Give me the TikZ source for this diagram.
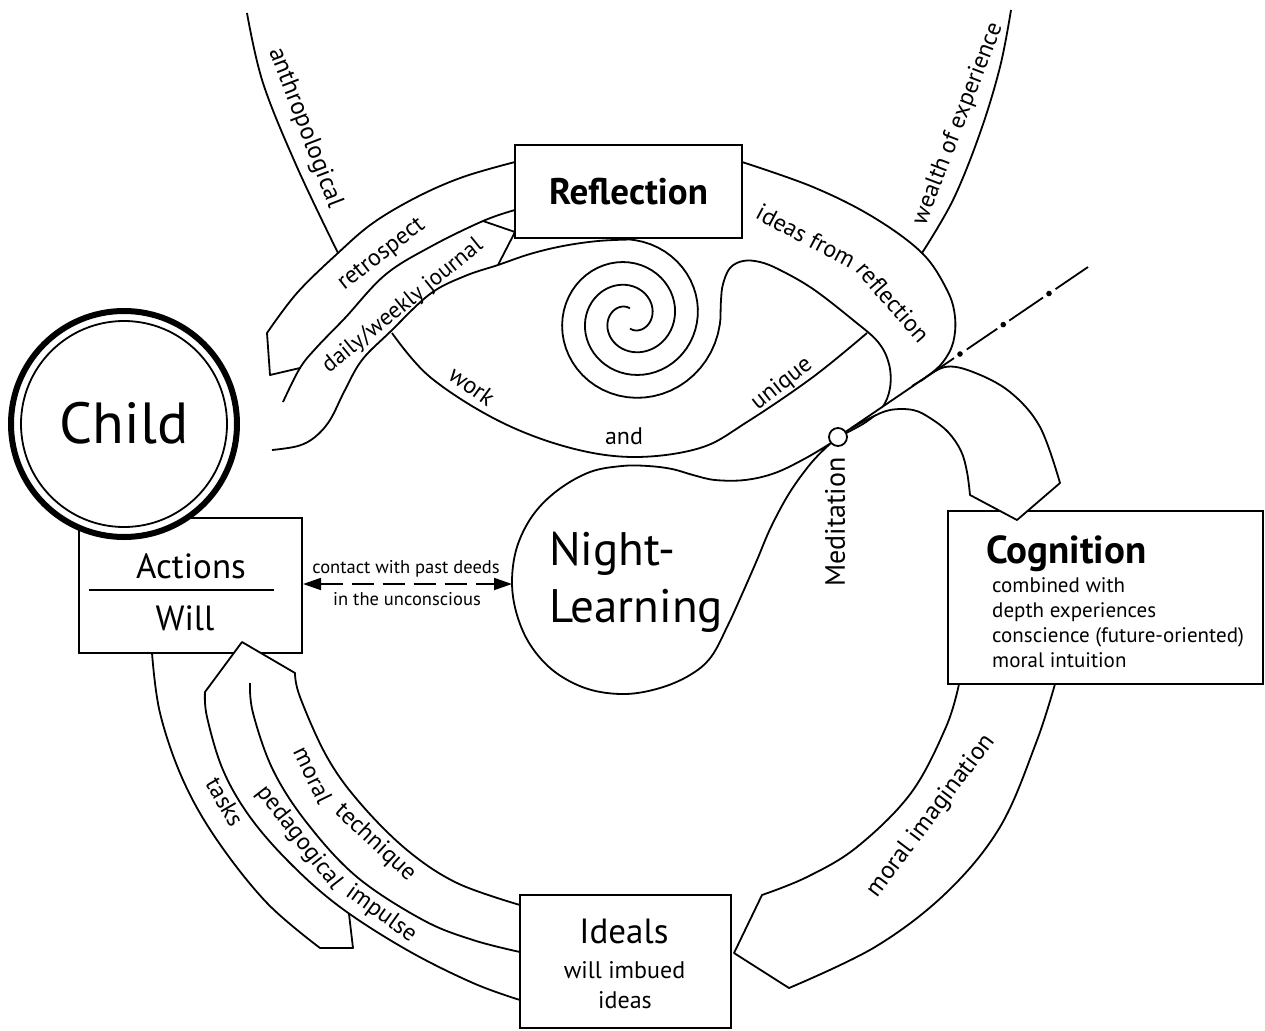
\documentclass[tikz,border=0pt]{standalone}
\usepackage{fontspec}
\setmainfont{PT Sans}
\setsansfont{PT Sans}
\usepackage{tikz}
\usetikzlibrary{shapes}
\usetikzlibrary{arrows.meta}
\usetikzlibrary{calc}
\tikzset{
	textnode/.style = {
		align=center,
		inner sep=0pt,
		font=\sffamily
	},
	node_box/.style = {
		textnode,
		rectangle,
		draw=black,
		fill=white,
		line width=2pt
	},
	node_lbl/.style = {
		textnode,
		font=\sffamily\fontsize{24}{28}\selectfont
	},
	node_small/.style = {
		textnode,
		font=\sffamily\fontsize{21}{25}\selectfont
	},
	node_big/.style = {
		textnode,
		font=\sffamily\fontsize{35}{40}\selectfont
	},
	node_title/.style = {
		textnode,
		font=\sffamily\bfseries\fontsize{38}{44}\selectfont
	},
	edge/.style = {
		draw=black,
		line width=1.8pt,
		line join=round
	},
}

\begin{document}
\begin{tikzpicture}[x=1pt, y=-1pt, >={Triangle[length=18pt,width=12pt]}]
\useasboundingbox (0,0) rectangle (1265,1030);

\draw[edge] plot[smooth, tension=0.6] coordinates {(247,13) (263,83) (297,167) (338,253)};
\draw[edge] plot[smooth, tension=0.6] coordinates {(1011,10) (1000,67) (980,133) (953,200) (922,253)};

\draw[edge] plot[smooth, tension=0.6] coordinates {(515,162) (463,177) (417,197) (373,223) (338,253) (297,293) (267,333)} -- (270,375) -- (300,368);
\draw[edge] plot[smooth, tension=0.6] coordinates {(515,210) (483,221) (430,247) (385,275) (345,318) (317,347) (300,368) (283,402)};
\draw[edge] (483,221) -- (515,232) -- (498,265);
\draw[edge] plot[smooth, tension=0.6] coordinates {(272,450) (298,446) (315,437) (330,420) (345,390) (362,360) (390,332) (430,294) (465,276) (498,265) (530,254) (563,246) (598,241) (630,239.5)}
	-- plot[domain=0.01:1.5, samples=90, variable=\t] ({630+(79-46*\t)*sin(360*\t)}, {318.5-(79-46*\t)*cos(360*\t)});
\draw[edge] plot[smooth, tension=0.6] coordinates {(846,433) (866,422) (882,408) (890,388) (889,364) (878,342) (853,320) (813,289) (780,270) (760,262) (743,261) (730,268) (723,284) (721,300) (720.5,318.5)}
	-- plot[domain=-0.24:1.5, samples=100, variable=\t] ({630-(79-46*\t)*sin(360*\t)}, {318.5+(79-46*\t)*cos(360*\t)});

\draw[edge] plot[smooth, tension=0.6] coordinates {(392,333) (430,377) (497,420) (567,447) (633,457) (700,448) (747,422) (813,377) (867,333)};
\draw[edge] plot[smooth, tension=0.6] coordinates {(742,162) (813,187) (873,217) (922,253) (947,290) (955,317) (953,343) (943,362) (929,375) (912,386)};

\draw[edge] plot[smooth, tension=0.6] coordinates {(831,443) (806,458) (775,473) (745,480) (715,480) (693,475) (672,469) (648,466) (622,466) (590,472) (558,490) (533,515) (517,547) (512,582) (517,615) (531,646) (555,672) (588,689) (625,694) (660,688) (690,675) (711,657) (728,625) (743,592) (757,560) (771,527) (790,492) (812,462) (831,443)};
\coordinate (nl_west) at (512,584);

\node[node_box, minimum width=227pt, minimum height=93pt, font=\sffamily\bfseries\fontsize{37}{42}\selectfont] (refl) at (628.5,191.5) {Reflection};

\draw[edge] plot[smooth, tension=0.6] coordinates {(959,684) (946,727) (911,793) (857,847) (807,877) (762,895)} -- (734,953)
	-- plot[smooth, tension=0.6] coordinates {(789,988) (875,947) (946,893) (1000,827) (1036,743) (1055,684)};
\node[node_box, minimum width=315pt, minimum height=173pt] (cogn) at (1105.5,597.5) {};
\node[node_title, anchor=base west, font=\sffamily\bfseries\fontsize{39}{44}\selectfont] (cogn_title) at (986,563) {Cognition};
\foreach \txt [count=\i] in {combined with, depth experiences, conscience (future-oriented), moral intuition}
	\node[node_small, anchor=base west] (cogn_line\i) at (992,567+25*\i) {\txt};

\draw[edge, fill=white] plot[smooth, tension=0.6] coordinates {(852,428) (870,418) (890,410) (913,410) (930,418) (948,432) (961,451) (967,472) (970,495)} -- (1017,520)
	-- plot[smooth, tension=0.6] coordinates {(1060,483) (1040,427) (1010,392) (973,372) (945,367) (921,381)};

\node[circle, draw, fill=white, line width=1.8pt, minimum size=18pt, inner sep=0pt] (medi) at (838,437) {};
\coordinate (ray) at (1088,267);
\draw[edge] (medi) -- ($(medi)!.464!(ray)$);
\foreach \a/\b in {.515/.637, .685/.820, .870/1}
	\draw[edge] ($(medi)!\a!(ray)$) -- ($(medi)!\b!(ray)$);
\foreach \t in {.488, .661, .844}
	\fill ($(medi)!\t!(ray)$) circle (2.8);

\node[node_box, minimum width=223pt, minimum height=135pt] (acts) at (190.5,585.5) {};
\draw[line width=2pt] (89,590) -- (274,590);
\node[node_big, anchor=base] (acts_top) at (191,578) {Actions};
\node[node_big, anchor=base] (acts_bot) at (185,630) {Will};

\draw[edge, fill=white] plot[smooth, tension=0.6] coordinates {(520,1000) (473,983) (407,950) (340,907) (290,863) (250,817) (223,770) (207,717) (205,692)} -- (242,642)
	-- plot[smooth, tension=0.6] coordinates {(295,673) (300,697) (327,757) (360,803) (407,850) (457,883) (520,905)};
\draw[edge] plot[smooth, tension=0.6] coordinates {(250,683) (253,713) (273,770) (307,823) (357,877) (423,920) (473,940) (520,952)};
\draw[edge] plot[smooth, tension=0.6] coordinates {(152,653) (160,713) (183,780) (217,840) (267,903) (320,948)} -- (353,948) -- (349,914);

\node[node_box, minimum width=211pt, minimum height=133pt] (ideals) at (625.5,961.5) {};
\node[node_big, anchor=base] (ideals_title) at (624,943) {Ideals};
\node[node_lbl, anchor=base] (ideals_l1) at (624.5,978) {will imbued};
\node[node_lbl, anchor=base] (ideals_l2) at (625,1008) {ideas};

\node[circle, draw, line width=6pt, fill=white, minimum size=226pt, inner sep=0pt] (child) at (124,424) {};
\draw[line width=1.8pt] (child.center) circle (103);
\node[textnode, font=\sffamily\fontsize{58}{62}\selectfont] (child_text) at (124,423) {Child};

\node[textnode, anchor=base west, font=\sffamily\fontsize{47}{52}\selectfont] (night) at (549,565) {Night-};
\node[textnode, anchor=base west, font=\sffamily\fontsize{47}{52}\selectfont] (learn) at (549,622) {Learning};

\draw[edge, dash pattern=on 22pt off 9pt, <->] (acts.east |- nl_west) -- (nl_west);
\node[textnode, anchor=base, font=\sffamily\fontsize{18.5}{22}\selectfont] (contact1) at (406,573) {contact with past deeds};
\node[textnode, anchor=base, font=\sffamily\fontsize{18.5}{22}\selectfont] (contact2) at (407,605) {in the unconscious};

\node[node_lbl, rotate=-69, font=\sffamily\fontsize{25}{28}\selectfont] (l_anthro) at (305,128) {anthropological};
\node[node_lbl, rotate=69] (l_wealth) at (958,124) {wealth of experience};
\node[node_lbl, rotate=38] (l_retro) at (382,255) {retrospect};
\node[node_lbl, rotate=39, font=\sffamily\fontsize{23}{27}\selectfont] (l_daily) at (403,306) {daily/weekly journal};
\node[node_lbl, rotate=-36] (l_work) at (472,386) {work};
\node[node_lbl] (l_and) at (624,436) {and};
\node[node_lbl, rotate=38] (l_unique) at (782,384) {unique};
\node[node_lbl, rotate=-28] (l_ideas) at (806,236) {ideas from};
\node[node_lbl, rotate=-49] (l_refl) at (893,302) {reflection};
\node[node_lbl, rotate=90, font=\sffamily\fontsize{28}{30}\selectfont] (l_medi) at (835,522) {Meditation};
\node[node_lbl, rotate=53, font=\sffamily\fontsize{25}{28}\selectfont] (l_imag) at (931,816) {moral imagination};
\node[node_lbl, rotate=-60] (l_tasks) at (225,802) {tasks};
\node[node_lbl, rotate=-64] (l_moral) at (313,775) {moral};
\node[node_lbl, rotate=-43] (l_tech) at (375,843) {technique};
\node[node_lbl, rotate=-52] (l_peda) at (299,838) {pedagogical};
\node[node_lbl, rotate=-36] (l_impulse) at (381,914) {impulse};
\end{tikzpicture}
\end{document}
